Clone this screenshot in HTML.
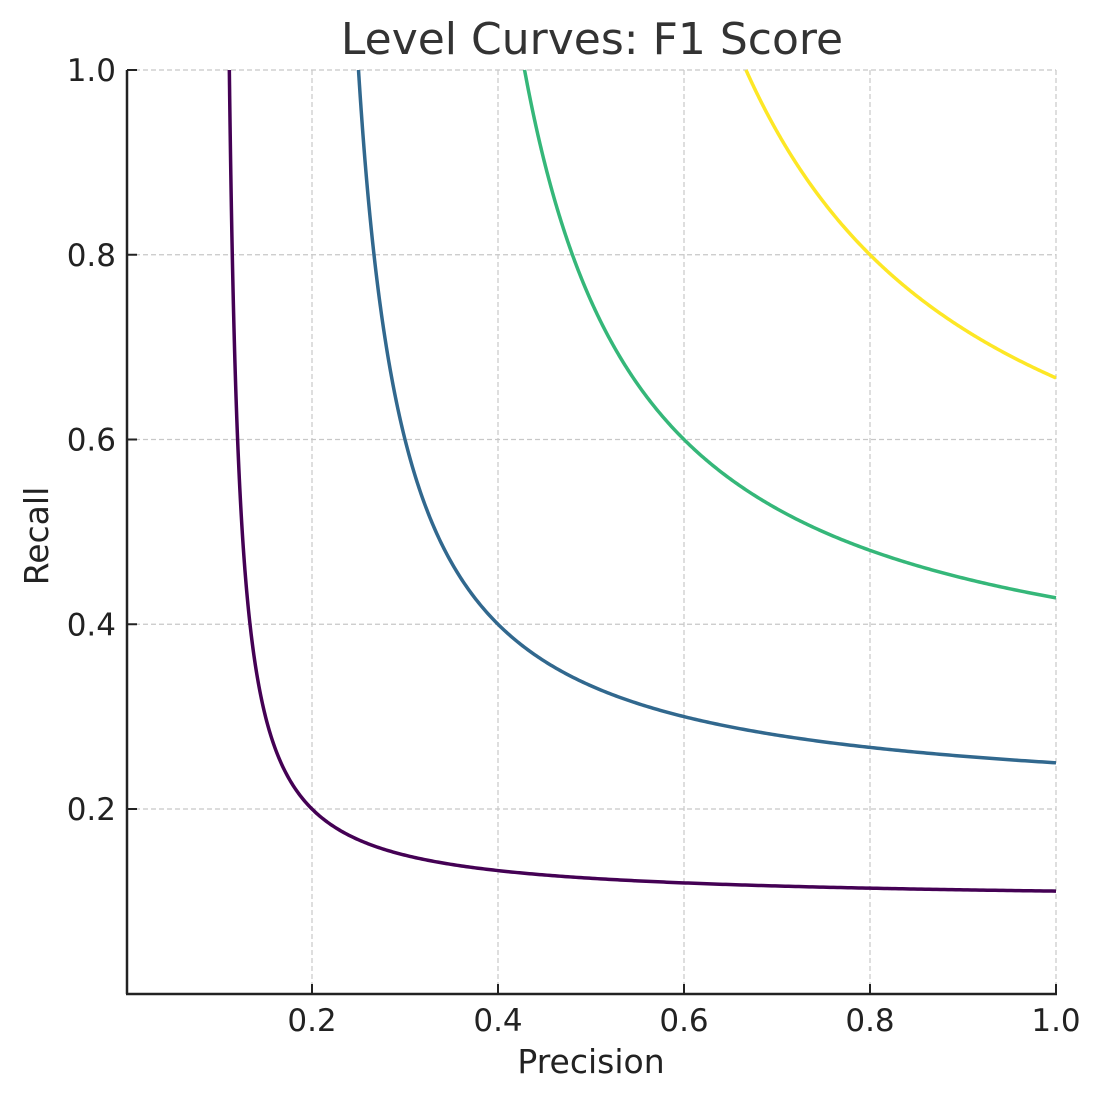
<!DOCTYPE html>
<html><head><meta charset="utf-8"><style>
html,body{margin:0;padding:0;background:#fff}
svg text{font-family:"DejaVu Sans","Liberation Sans",sans-serif}
</style></head><body>
<svg id="s" width="1103" height="1101" xmlns="http://www.w3.org/2000/svg">
<rect width="1103" height="1101" fill="#fff"/>
<g id="grid" stroke="#c8c8c8" stroke-width="1.2" stroke-dasharray="5,3"></g>
<g id="curves" fill="none" stroke-width="3.5"></g>
<g id="ticks" stroke="#222" stroke-width="2"></g>
<line x1="127" y1="70" x2="127" y2="994" stroke="#222" stroke-width="2.5"/>
<line x1="126" y1="994" x2="1057" y2="994" stroke="#222" stroke-width="2.5"/>
<g id="labels" font-size="31" fill="#222"></g>
<text x="592" y="54" font-size="44" fill="#333" text-anchor="middle">Level Curves: F1 Score</text>
<text x="591" y="1073" font-size="33" fill="#222" text-anchor="middle">Precision</text>
<text transform="translate(48,536) rotate(-90)" font-size="33" fill="#222" text-anchor="middle">Recall</text>
</svg>
<script>
var X=function(p){return 126+930*p},Y=function(r){return 993.75-923.75*r};
var ns="http://www.w3.org/2000/svg";
function el(g,t,a,txt){var e=document.createElementNS(ns,t);for(var k in a)e.setAttribute(k,a[k]);if(txt)e.textContent=txt;document.getElementById(g).appendChild(e);}
[0.2,0.4,0.6,0.8,1.0].forEach(function(v){
 el("grid","line",{x1:X(v),y1:70,x2:X(v),y2:994});
 el("grid","line",{x1:127,y1:Y(v),x2:1056,y2:Y(v)});
 el("ticks","line",{x1:X(v),y1:994,x2:X(v),y2:984});
 el("ticks","line",{x1:127,y1:Y(v),x2:137,y2:Y(v)});
 el("labels","text",{x:X(v),y:1031,"text-anchor":"middle"},v.toFixed(1));
 el("labels","text",{x:116,y:Y(v)+11,"text-anchor":"end"},v.toFixed(1));
});
[[0.2,"#440154"],[0.4,"#31688e"],[0.6,"#35b779"],[0.8,"#fde725"]].forEach(function(c){
 var F=c[0],p0=F/(2-F),d="";
 for(var i=0;i<=400;i++){var p=p0+(1-p0)*Math.pow(i/400,2);var r=F*p/(2*p-F);if(r>1)r=1;d+=(i?"L":"M")+X(p).toFixed(2)+","+Y(r).toFixed(2);}
 el("curves","path",{d:d,stroke:c[1]});
});
</script>
</body></html>
